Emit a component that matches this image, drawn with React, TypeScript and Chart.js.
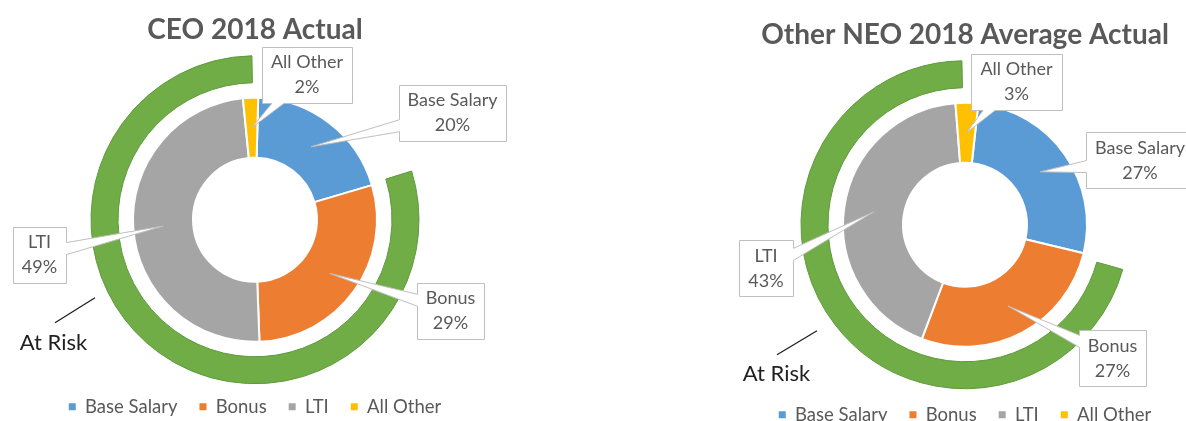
import React, { useEffect, useRef } from 'react';
import { Chart, registerables } from 'chart.js';

Chart.register(...registerables);

// ---------- data ----------
const categories = ['Base Salary', 'Bonus', 'LTI', 'All Other'];
const sliceColors = ['#5B9BD5', '#ED7D31', '#A5A5A5', '#FFC000'];
const ceoValues = [20, 29, 49, 2];
const neoValues = [27, 27, 43, 3];
// outer "At Risk" ring: [gap before, at risk, gap after] (percent of circle)
const ceoRiskRing = [20.2, 79.5, 0.3];
const neoRiskRing = [29.4, 70.3, 0.3];
const riskLabel = 'At Risk';
const ceoTitle = 'CEO 2018 Actual';
const neoTitle = 'Other NEO 2018 Average Actual';

const FONT = 'Lato, "Open Sans", sans-serif';
const TEXT_GRAY = '#595959';
const GREEN = '#70AD47';

type Panel = {
  title: string;
  values: number[];
  ring: number[];
  left: number;
  top: number;
  width: number;
  height: number;
  padLeft: number;
  padRight: number;
  titlePadTop: number;
  titlePadBottom: number;
  rotation: number;
  boxOffsets: number[][];
  riskText: number[];
  riskLine: number[][];
};

const panels: Panel[] = [
  {
    title: ceoTitle,
    values: ceoValues,
    ring: ceoRiskRing,
    left: 0,
    top: 0,
    width: 593,
    height: 426,
    padLeft: 0,
    padRight: 83,
    titlePadTop: 13.2,
    titlePadBottom: 17.2,
    rotation: 1.5,
    boxOffsets: [[197.5, -107], [195.5, 91], [-215.5, 35], [52, -145]],
    riskText: [-201.5, 123],
    riskLine: [[-200, 103], [-160, 78]],
  },
  {
    title: neoTitle,
    values: neoValues,
    ring: neoRiskRing,
    left: 593,
    top: 5,
    width: 593,
    height: 429,
    padLeft: 151,
    padRight: 0,
    titlePadTop: 13.2,
    titlePadBottom: 14.2,
    rotation: 6.3,
    boxOffsets: [[175, -64.5], [147.5, 133.5], [-199, 43.5], [51.5, -143]],
    riskText: [-188.5, 149],
    riskLine: [[-188, 130], [-148, 106]],
  },
];

function drawCallout(
  ctx: CanvasRenderingContext2D,
  cx: number,
  cy: number,
  w: number,
  h: number,
  tx: number,
  ty: number
) {
  const x0 = Math.round(cx - w / 2) + 0.5;
  const x1 = Math.round(cx + w / 2) + 0.5;
  const y0 = Math.round(cy - h / 2) + 0.5;
  const y1 = Math.round(cy + h / 2) + 0.5;
  const dx = tx - cx;
  const dy = ty - cy;
  const hw = w / 2;
  const hh = h / 2;
  const half = 6;
  ctx.beginPath();
  if (Math.abs(dx) * hh > Math.abs(dy) * hw) {
    let yi = cy + (dy * hw) / Math.abs(dx);
    yi = Math.max(y0 + half + 2, Math.min(y1 - half - 2, yi));
    if (dx < 0) {
      ctx.moveTo(x0, y0);
      ctx.lineTo(x1, y0);
      ctx.lineTo(x1, y1);
      ctx.lineTo(x0, y1);
      ctx.lineTo(x0, yi + half);
      ctx.lineTo(tx, ty);
      ctx.lineTo(x0, yi - half);
    } else {
      ctx.moveTo(x0, y0);
      ctx.lineTo(x1, y0);
      ctx.lineTo(x1, yi - half);
      ctx.lineTo(tx, ty);
      ctx.lineTo(x1, yi + half);
      ctx.lineTo(x1, y1);
      ctx.lineTo(x0, y1);
    }
  } else {
    let xi = cx + (dx * hh) / Math.abs(dy);
    xi = Math.max(x0 + half + 2, Math.min(x1 - half - 2, xi));
    if (dy < 0) {
      ctx.moveTo(x0, y0);
      ctx.lineTo(xi - half, y0);
      ctx.lineTo(tx, ty);
      ctx.lineTo(xi + half, y0);
      ctx.lineTo(x1, y0);
      ctx.lineTo(x1, y1);
      ctx.lineTo(x0, y1);
    } else {
      ctx.moveTo(x0, y0);
      ctx.lineTo(x1, y0);
      ctx.lineTo(x1, y1);
      ctx.lineTo(xi + half, y1);
      ctx.lineTo(tx, ty);
      ctx.lineTo(xi - half, y1);
      ctx.lineTo(x0, y1);
    }
  }
  ctx.closePath();
  ctx.fillStyle = '#FFFFFF';
  ctx.fill();
  ctx.strokeStyle = '#BFBFBF';
  ctx.lineWidth = 1;
  ctx.stroke();
}

function buildConfig(panel: Panel): any {
  const annotationPlugin = {
    id: 'calloutsAndRisk',
    afterDatasetsDraw(chart: any) {
      const ctx: CanvasRenderingContext2D = chart.ctx;
      const meta = chart.getDatasetMeta(2);
      const total = panel.values.reduce((a, b) => a + b, 0);
      ctx.save();
      ctx.font = `18px ${FONT}`;
      meta.data.forEach((arc: any, i: number) => {
        const cx = arc.x + panel.boxOffsets[i][0];
        const cy = arc.y + panel.boxOffsets[i][1];
        const pct = Math.round((panel.values[i] / total) * 100) + '%';
        const lines = [categories[i], pct];
        const tw = Math.max(...lines.map((l) => ctx.measureText(l).width));
        const w = tw + 18;
        const h = 56;
        const tip = arc.getCenterPoint();
        drawCallout(ctx, cx, cy, w, h, tip.x, tip.y);
        ctx.fillStyle = TEXT_GRAY;
        ctx.textAlign = 'center';
        ctx.textBaseline = 'middle';
        ctx.fillText(lines[0], cx, cy - 12.5);
        ctx.fillText(lines[1], cx, cy + 12.5);
      });
      // "At Risk" annotation
      const c = meta.data[0];
      ctx.font = `22px ${FONT}`;
      ctx.fillStyle = '#1F1F1F';
      ctx.textAlign = 'center';
      ctx.textBaseline = 'middle';
      ctx.fillText(riskLabel, c.x + panel.riskText[0], c.y + panel.riskText[1]);
      ctx.beginPath();
      ctx.moveTo(c.x + panel.riskLine[0][0], c.y + panel.riskLine[0][1]);
      ctx.lineTo(c.x + panel.riskLine[1][0], c.y + panel.riskLine[1][1]);
      ctx.strokeStyle = '#1F1F1F';
      ctx.lineWidth = 1.3;
      ctx.stroke();
      ctx.restore();
    },
  };

  return {
    type: 'doughnut',
    data: {
      labels: categories,
      datasets: [
        {
          label: riskLabel,
          data: panel.ring,
          backgroundColor: ['rgba(0,0,0,0)', GREEN, 'rgba(0,0,0,0)'],
          borderColor: ['rgba(0,0,0,0)', '#5E9A3B', 'rgba(0,0,0,0)'],
          borderWidth: [0, 1, 0],
          weight: 27,
          rotation: 0,
        },
        {
          label: 'spacer',
          data: [100],
          backgroundColor: ['rgba(0,0,0,0)'],
          borderWidth: 0,
          weight: 15,
        },
        {
          label: panel.title,
          data: panel.values,
          backgroundColor: sliceColors,
          borderColor: '#FFFFFF',
          borderWidth: 2,
          weight: 60,
          rotation: panel.rotation,
        },
      ],
    },
    options: {
      responsive: false,
      animation: false,
      events: [],
      radius: 164,
      cutout: '37.8%',
      layout: {
        padding: { left: panel.padLeft, right: panel.padRight, top: 0, bottom: 0 },
      },
      plugins: {
        tooltip: { enabled: false },
        title: {
          display: true,
          text: panel.title,
          color: TEXT_GRAY,
          font: { family: FONT, size: 28, weight: 'bold' },
          padding: { top: panel.titlePadTop, bottom: panel.titlePadBottom },
        },
        legend: {
          display: true,
          position: 'bottom',
          labels: {
            color: TEXT_GRAY,
            font: { family: FONT, size: 18.5 },
            boxWidth: 7,
            boxHeight: 7,
            padding: 22,
            generateLabels: () =>
              categories.map((c, i) => ({
                text: c,
                fillStyle: sliceColors[i],
                strokeStyle: sliceColors[i],
                lineWidth: 0,
                hidden: false,
                index: i,
                fontColor: TEXT_GRAY,
              })),
          },
        },
      },
    },
    plugins: [annotationPlugin],
  };
}

function DonutPanel({ panel }: { panel: Panel }) {
  const ref = useRef<HTMLCanvasElement>(null);
  useEffect(() => {
    const chart = new Chart(ref.current as HTMLCanvasElement, buildConfig(panel));
    return () => chart.destroy();
  }, [panel]);
  return (
    <canvas
      ref={ref}
      width={panel.width}
      height={panel.height}
      style={{
        position: 'absolute',
        left: panel.left,
        top: panel.top,
        width: panel.width,
        height: panel.height,
      }}
    />
  );
}

export default function App() {
  return (
    <div
      style={{
        position: 'fixed',
        left: 0,
        top: 0,
        width: 1186,
        height: 421,
        overflow: 'hidden',
        background: '#FFFFFF',
      }}
    >
      {panels.map((p) => (
        <DonutPanel key={p.title} panel={p} />
      ))}
    </div>
  );
}
